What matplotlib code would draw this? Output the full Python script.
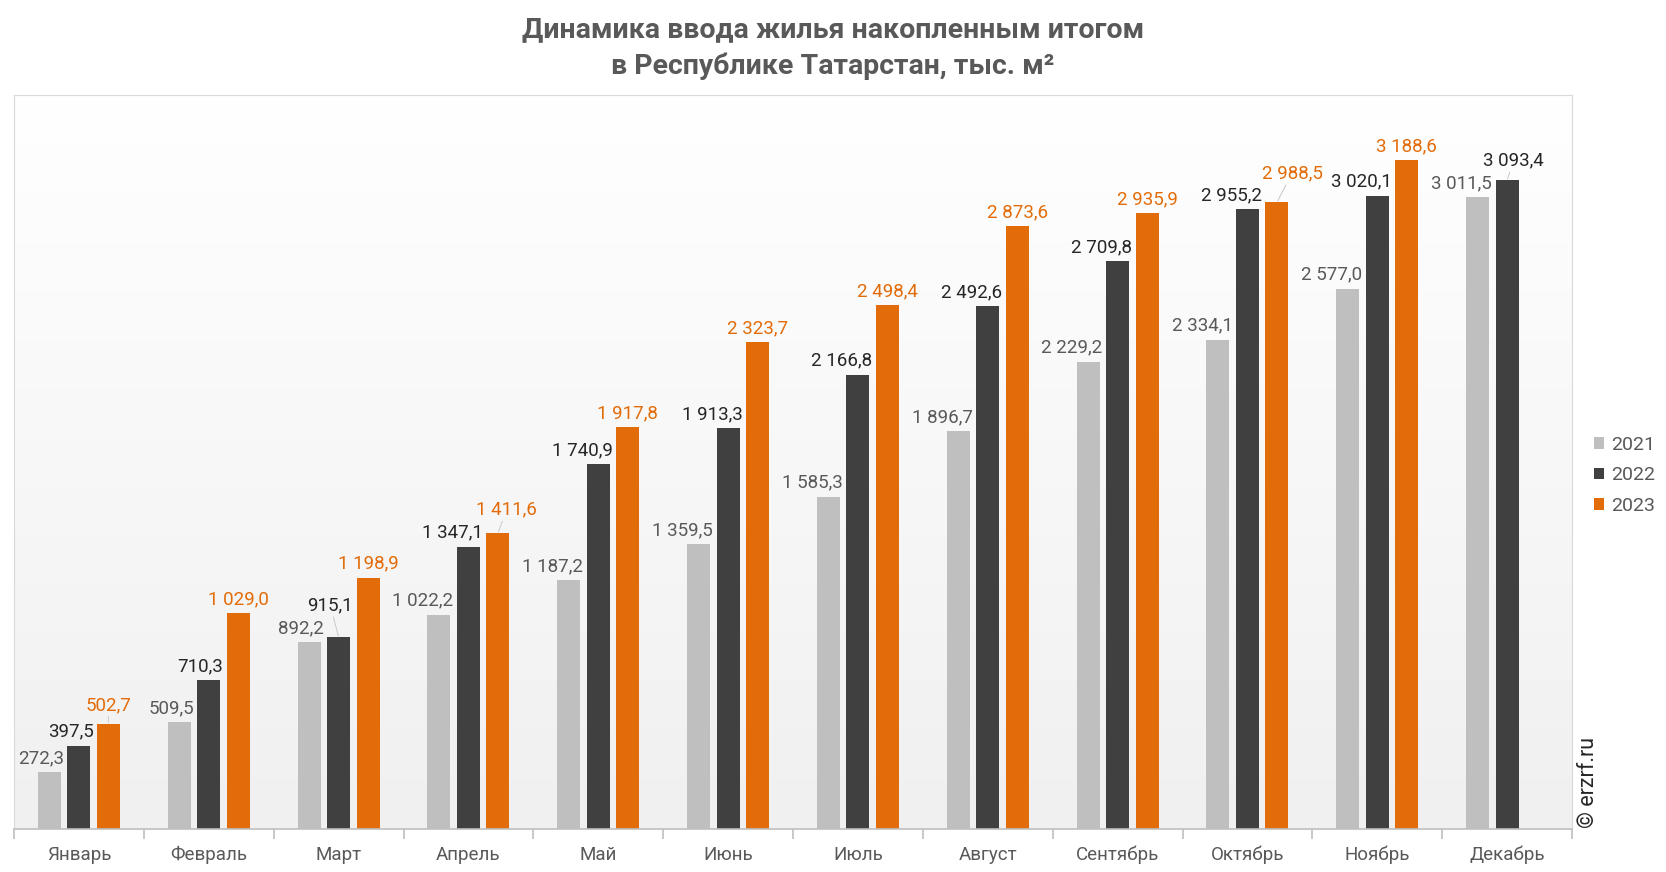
import numpy as np
import matplotlib
matplotlib.use("Agg")
import matplotlib.pyplot as plt

plt.rcParams['font.family'] = ['Roboto', 'DejaVu Sans']

months = ['Январь', 'Февраль', 'Март', 'Апрель', 'Май', 'Июнь',
          'Июль', 'Август', 'Сентябрь', 'Октябрь', 'Ноябрь', 'Декабрь']
years = ['2021', '2022', '2023']
v2021 = [272.3, 509.5, 892.2, 1022.2, 1187.2, 1359.5, 1585.3, 1896.7,
         2229.2, 2334.1, 2577.0, 3011.5]
v2022 = [397.5, 710.3, 915.1, 1347.1, 1740.9, 1913.3, 2166.8, 2492.6,
         2709.8, 2955.2, 3020.1, 3093.4]
v2023 = [502.7, 1029.0, 1198.9, 1411.6, 1917.8, 2323.7, 2498.4, 2873.6,
         2935.9, 2988.5, 3188.6]

bar_colors = ['#bfbfbf', '#404040', '#e36c0a']
label_colors = ['#595959', '#262626', '#e36c0a']

# labels moved by hand in the original (series, month): (dx, dy) in points
nudges = {(1, 2): (0, 13), (2, 9): (11, 11), (2, 3): (6.5, 7),
          (1, 11): (16, 4.5), (2, 0): (0, 3.5)}


def fmt(v):
    s = '{:,.1f}'.format(v)
    return s.replace(',', ' ').replace('.', ',')


fig = plt.figure(figsize=(16.66, 8.72), dpi=100)
ax = fig.add_axes([0.0084, 0.0493, 0.9352, 0.8417])

# gradient background of plot area
grad = np.linspace(0, 1, 256).reshape(-1, 1)
ax.imshow(grad, cmap=matplotlib.colors.LinearSegmentedColormap.from_list(
    'bg', ['#ffffff', '#f0f0f0']), aspect='auto', extent=[0, 1, 0, 1],
    transform=ax.transAxes, zorder=0, origin='upper')

x = np.arange(len(months))
w = 0.177
step = 0.227
series = [v2021, v2022, v2023]
for i, vals in enumerate(series):
    xs = x[:len(vals)] + (i - 1) * step
    ax.bar(xs, vals, width=w, color=bar_colors[i], zorder=2,
           label=years[i])
    for j, (xi, v) in enumerate(zip(xs, vals)):
        dx, dy = nudges.get((i, j), (0, 0))
        if i < 2:
            ha, bx = 'right', 10.5
        else:
            ha, bx = 'center', 0
        arrow = None
        if (i, j) in nudges:
            arrow = dict(arrowstyle='-', color='#c8c8c8', lw=0.7,
                         shrinkA=0, shrinkB=1)
        ax.annotate(fmt(v), (xi, v), xytext=(bx + dx, 3.5 + dy),
                    textcoords='offset points', ha=ha, va='bottom',
                    fontsize=13.5, color=label_colors[i], zorder=3,
                    arrowprops=arrow)

ax.set_xlim(-0.5, len(months) - 0.5)
ax.set_ylim(0, 3500)
ax.set_yticks([])
ax.set_xticks(x)
ax.set_xticklabels(months, fontsize=13.5, color='#595959')
ax.tick_params(axis='x', length=0, pad=12)
ax.set_xticks(np.arange(-0.5, len(months)), minor=True)
ax.tick_params(axis='x', which='minor', length=7, color='#bfbfbf', width=1.2)

for s in ['top', 'left', 'right']:
    ax.spines[s].set_color('#d9d9d9')
ax.spines['bottom'].set_color('#bfbfbf')
ax.spines['bottom'].set_linewidth(1.2)

fig.suptitle('Динамика ввода жилья накопленным итогом\nв Республике Татарстан, тыс. м²',
             y=0.982, fontsize=20.5, fontweight='bold', color='#595959',
             linespacing=1.45)

leg = ax.legend(loc='center left', bbox_to_anchor=(0.946, 0.455),
                bbox_transform=fig.transFigure, frameon=False, fontsize=14,
                handlelength=0.55, handleheight=0.55, handletextpad=0.35,
                labelspacing=0.65)
for t in leg.get_texts():
    t.set_color('#595959')

fig.text(0.947, 0.05, '© erzrf.ru', rotation=90, fontsize=15.5,
         color='#262626', ha='left', va='bottom')

fig.savefig('out.png', dpi=100, facecolor='white')
